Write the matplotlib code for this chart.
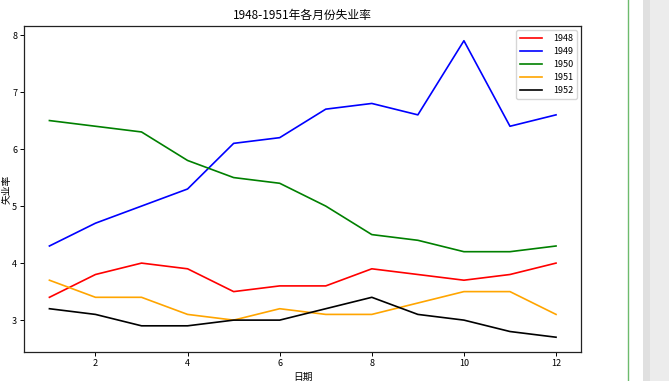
import matplotlib
matplotlib.use('Agg')
import matplotlib.pyplot as plt
from matplotlib.patches import Rectangle
from matplotlib.lines import Line2D

plt.rcParams['font.family'] = ['Noto Sans CJK SC', 'DejaVu Sans']
plt.rcParams['axes.unicode_minus'] = False

# 月份
months = [1, 2, 3, 4, 5, 6, 7, 8, 9, 10, 11, 12]
# 各年失业率
rate_1948 = [3.4, 3.8, 4.0, 3.9, 3.5, 3.6, 3.6, 3.9, 3.8, 3.7, 3.8, 4.0]
rate_1949 = [4.3, 4.7, 5.0, 5.3, 6.1, 6.2, 6.7, 6.8, 6.6, 7.9, 6.4, 6.6]
rate_1950 = [6.5, 6.4, 6.3, 5.8, 5.5, 5.4, 5.0, 4.5, 4.4, 4.2, 4.2, 4.3]
rate_1951 = [3.7, 3.4, 3.4, 3.1, 3.0, 3.2, 3.1, 3.1, 3.3, 3.5, 3.5, 3.1]
rate_1952 = [3.2, 3.1, 2.9, 2.9, 3.0, 3.0, 3.2, 3.4, 3.1, 3.0, 2.8, 2.7]

years = ['1948', '1949', '1950', '1951', '1952']
colors = ['red', 'blue', 'green', 'orange', 'black']
series = [rate_1948, rate_1949, rate_1950, rate_1951, rate_1952]

fig = plt.figure(figsize=(6.69, 3.81), dpi=100)
ax = fig.add_axes([0.036, 0.076, 0.833, 0.856])

for year, c, vals in zip(years, colors, series):
    ax.plot(months, vals, color=c, lw=1.2, label=year)

ax.set_title('1948-1951年各月份失业率', fontsize=8.5, pad=5)
ax.set_xlabel('日期', fontsize=7, labelpad=3)
ax.set_ylabel('失业率', fontsize=7, labelpad=0.5)
ax.tick_params(labelsize=6.5, length=3, width=0.7, pad=2)
for s in ax.spines.values():
    s.set_color('#222222')
    s.set_linewidth(0.9)
ax.legend(loc='upper right', fontsize=6.5, handlelength=2.5, labelspacing=0.45,
          borderpad=0.4, handletextpad=1.2)

# 右侧的滚动条区域
fig.add_artist(Line2D([0.9385, 0.9385], [0, 1], transform=fig.transFigure,
                      color='#6dbb6d', lw=1.0))
fig.add_artist(Rectangle((0.961, 0), 0.039, 1, transform=fig.transFigure,
                         color='#ececec', lw=0))
fig.add_artist(Rectangle((0.961, 0), 0.011, 1, transform=fig.transFigure,
                         color='#e0e0e0', lw=0))

fig.savefig('out.png', dpi=100)
